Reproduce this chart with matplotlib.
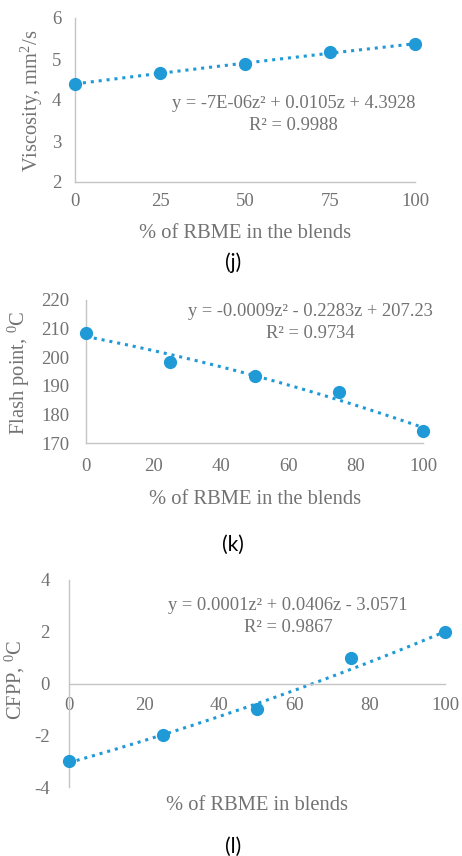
import numpy as np
import matplotlib
matplotlib.use("Agg")
import matplotlib.pyplot as plt

plt.rcParams['font.family'] = ['Liberation Serif', 'DejaVu Serif']
plt.rcParams['mathtext.fontset'] = 'custom'
plt.rcParams['mathtext.rm'] = 'Liberation Serif'
plt.rcParams['mathtext.it'] = 'Liberation Serif:italic'
plt.rcParams['mathtext.bf'] = 'Liberation Serif:bold'
plt.rcParams['axes.unicode_minus'] = False

# ---- data ----
blend_pct = [0, 25, 50, 75, 100]
viscosity = [4.40, 4.65, 4.89, 5.16, 5.37]
flash_point = [208.6, 198.4, 193.4, 187.9, 174.3]
cfpp = [-3.0, -2.0, -1.0, 1.0, 2.0]

fit_visc = [-7e-06, 0.0105, 4.3928]
fit_flash = [-0.0009, -0.2283, 207.23]
fit_cfpp = [0.0001, 0.0406, -3.0571]

eq_visc = ["y = -7E-06z² + 0.0105z + 4.3928", "R² = 0.9988"]
eq_flash = ["y = -0.0009z² - 0.2283z + 207.23", "R² = 0.9734"]
eq_cfpp = ["y = 0.0001z² + 0.0406z - 3.0571", "R² = 0.9867"]

xticks_j = [0, 25, 50, 75, 100]
yticks_j = [2, 3, 4, 5, 6]
xticks_k = [0, 20, 40, 60, 80, 100]
yticks_k = [170, 180, 190, 200, 210, 220]
xticks_l = [0, 20, 40, 60, 80, 100]
yticks_l = [-4, -2, 0, 2, 4]

BLUE = '#1f9ad6'
GREY = '#727272'
AXC = '#c4c4c4'
TFS = 13.5
EFS = 13.3
LFS = 14.8
CFS = 15

W, H = 462, 856
fig = plt.figure(figsize=(W / 100, H / 100), dpi=100)


def ax_at(l, r, t, b):
    return fig.add_axes([l / W, 1 - b / H, (r - l) / W, (b - t) / H])


def style(ax):
    for s in ['top', 'right']:
        ax.spines[s].set_visible(False)
    for s in ['left', 'bottom']:
        ax.spines[s].set_color(AXC)
        ax.spines[s].set_linewidth(1.0)
    ax.tick_params(length=0, labelsize=TFS, labelcolor=GREY)


def plot_panel(ax, x, y, fit):
    zz = np.linspace(min(x), max(x), 200)
    ax.plot(zz, np.polyval(fit, zz), linestyle=(0, (1, 1.6)), color=BLUE, lw=2.2,
            zorder=2)
    ax.plot(x, y, 'o', color=BLUE, ms=8.5, zorder=3, clip_on=False)


def fig_text(x, y, s, **kw):
    fig.text(x / W, 1 - y / H, s, **kw)


# ---- panel (j) ----
ax = ax_at(75, 415, 18, 182)
style(ax)
plot_panel(ax, blend_pct, viscosity, fit_visc)
ax.set_xlim(0, 100)
ax.set_ylim(2, 6)
ax.set_xticks(xticks_j)
ax.set_yticks(yticks_j)
ax.tick_params(axis='x', pad=8)
ax.tick_params(axis='y', pad=10)
fig_text(294, 104, eq_visc[0], ha='center', va='center', color=GREY, fontsize=EFS)
fig_text(293, 125, eq_visc[1], ha='center', va='center', color=GREY, fontsize=EFS)
fig_text(32, 101, "Viscosity, mm$^2$/s", rotation=90, ha='center', va='center',
         color=GREY, fontsize=LFS)
fig_text(245, 233, "% of RBME in the blends", ha='center', va='center', color=GREY,
         fontsize=LFS)
fig_text(233, 263, "(j)", ha='center', va='center', color='black', fontsize=CFS,
         family='Lato')

# ---- panel (k) ----
ax = ax_at(86, 423, 300, 443)
style(ax)
plot_panel(ax, blend_pct, flash_point, fit_flash)
ax.set_xlim(0, 100)
ax.set_ylim(170, 220)
ax.set_xticks(xticks_k)
ax.set_yticks(yticks_k)
ax.tick_params(axis='x', pad=11)
ax.tick_params(axis='y', pad=12)
fig_text(310, 312, eq_flash[0], ha='center', va='center', color=GREY, fontsize=EFS)
fig_text(310, 334, eq_flash[1], ha='center', va='center', color=GREY, fontsize=EFS)
fig_text(19, 373, "Flash point, $^0$C", rotation=90, ha='center', va='center',
         color=GREY, fontsize=LFS)
fig_text(255, 499, "% of RBME in the blends", ha='center', va='center', color=GREY,
         fontsize=LFS)
fig_text(233, 545, "(k)", ha='center', va='center', color='black', fontsize=CFS,
         family='Lato')

# ---- panel (l) ----
ax = ax_at(69, 445, 580, 787)
style(ax)
ax.spines['bottom'].set_position(('data', 0))
plot_panel(ax, blend_pct, cfpp, fit_cfpp)
ax.set_xlim(0, 100)
ax.set_ylim(-4, 4)
ax.set_xticks(xticks_l)
ax.set_yticks(yticks_l)
ax.tick_params(axis='x', pad=10)
ax.tick_params(axis='y', pad=14)
fig_text(288, 605, eq_cfpp[0], ha='center', va='center', color=GREY, fontsize=EFS)
fig_text(288, 627, eq_cfpp[1], ha='center', va='center', color=GREY, fontsize=EFS)
fig_text(15, 680, "CFPP, $^0$C", rotation=90, ha='center', va='center',
         color=GREY, fontsize=LFS)
fig_text(257, 805, "% of RBME in blends", ha='center', va='center', color=GREY,
         fontsize=LFS)
fig_text(233, 847, "(l)", ha='center', va='center', color='black', fontsize=CFS,
         family='Lato')

fig.savefig("out.png", dpi=100, facecolor='white')
